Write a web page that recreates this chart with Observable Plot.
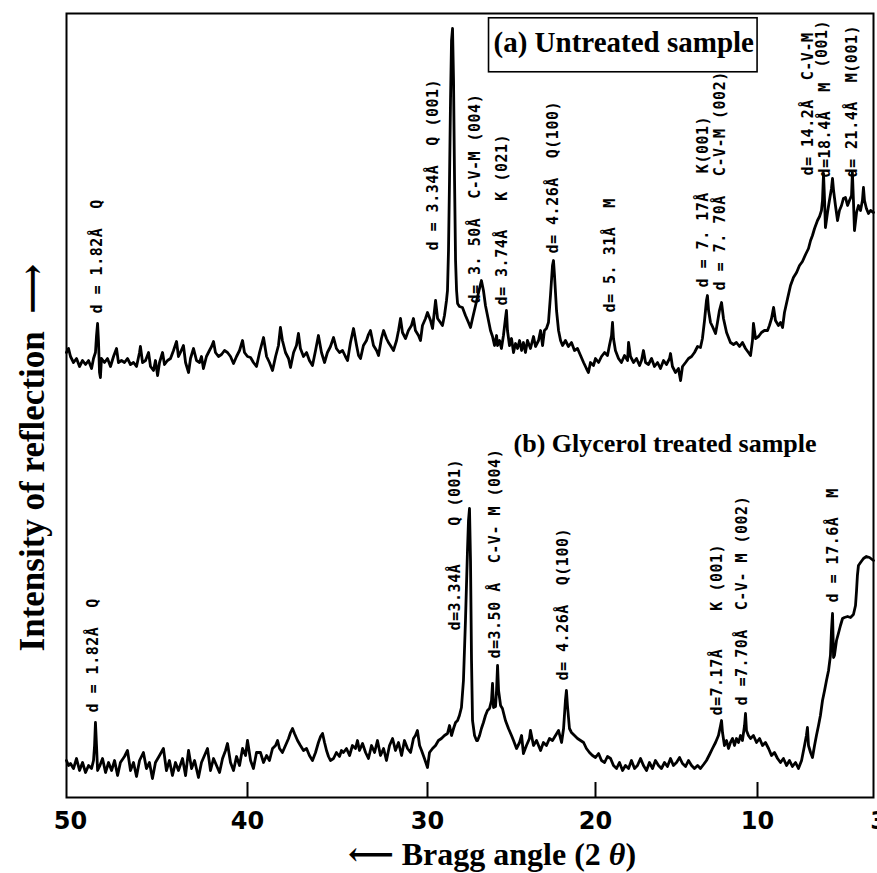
<!DOCTYPE html>
<html><head><meta charset="utf-8">
<script src="https://cdn.jsdelivr.net/npm/d3@7"></script>
<script src="https://cdn.jsdelivr.net/npm/@observablehq/plot@0.6"></script>
<style>
body{margin:0;background:#fff}
#chart svg{display:block}
.pk text{white-space:pre;letter-spacing:0.5px}
</style></head><body><div id="chart"></div>
<script>
// Bragg angle 2θ (deg) and relative intensity (arbitrary units)
const traceA = [
[50.23,445],[50.11,449],[50.00,441],[49.83,435],[49.66,439],[49.49,431],[49.32,437],[49.15,433],[48.98,437],[48.81,429],
[48.70,439],[48.59,445],[48.53,462],[48.47,474],[48.42,457],[48.36,425],[48.31,420],[48.25,439],[48.08,435],[47.91,439],
[47.74,431],[47.57,441],[47.40,449],[47.29,435],[47.12,437],[46.95,435],[46.78,439],[46.61,433],[46.44,435],[46.27,431],
[46.10,445],[46.05,451],[45.93,435],[45.76,437],[45.59,445],[45.48,431],[45.31,427],[45.20,437],[45.08,422],[44.97,435],
[44.80,445],[44.69,433],[44.52,437],[44.35,439],[44.18,447],[44.01,456],[43.90,441],[43.79,445],[43.62,452],[43.50,435],
[43.33,425],[43.22,439],[43.05,449],[42.88,437],[42.71,435],[42.60,441],[42.49,429],[42.32,441],[42.15,447],[42.03,451],
[41.92,456],[41.81,445],[41.64,441],[41.47,443],[41.30,447],[41.13,445],[40.96,441],[40.79,434],[40.62,441],[40.45,447],
[40.28,457],[40.17,445],[40.00,441],
[39.83,440],[39.67,435],[39.50,431],[39.33,445],[39.11,460],[38.94,441],[38.78,435],[38.61,427],[38.44,441],[38.28,452],
[38.17,470],[38.06,457],[37.89,445],[37.72,439],[37.61,430],[37.44,445],[37.28,452],[37.17,464],[37.06,449],[36.89,441],
[36.72,445],[36.56,437],[36.39,432],[36.22,447],[36.06,462],[35.89,445],[35.72,435],[35.56,445],[35.39,451],[35.22,460],
[35.06,449],[34.89,445],[34.72,447],[34.56,441],[34.44,437],[34.28,455],[34.11,469],[33.94,452],[33.83,442],[33.72,439],
[33.56,452],[33.39,457],[33.28,463],[33.17,467],[33.00,452],[32.83,447],[32.72,442],[32.56,459],[32.44,467],[32.28,459],
[32.17,455],[32.06,452],[31.89,447],[31.72,457],[31.61,467],[31.50,479],[31.39,465],[31.22,459],[31.06,467],[30.89,472],
[30.78,479],[30.67,467],[30.50,462],[30.39,457],[30.28,472],[30.11,479],[30.00,485],
[29.82,477],[29.70,469],[29.52,497],[29.40,479],[29.23,475],[29.11,472],[28.99,482],[28.87,497],[28.81,507],[28.75,547],
[28.69,617],[28.63,697],[28.57,757],[28.51,769],[28.45,717],[28.39,617],[28.33,537],[28.27,507],[28.21,494],[28.10,491],
[27.92,490],[27.74,482],[27.56,475],[27.44,470],[27.32,479],[27.14,492],[26.96,505],[26.79,517],[26.67,507],[26.55,492],
[26.43,482],[26.25,467],[26.13,461],[26.01,452],[25.89,462],[25.83,452],[25.71,457],[25.60,449],[25.48,462],[25.36,479],
[25.30,487],[25.24,467],[25.12,452],[25.00,459],[24.88,445],[24.76,454],[24.64,449],[24.52,457],[24.40,447],[24.29,455],
[24.17,445],[24.05,457],[23.87,449],[23.69,461],[23.57,451],[23.39,457],[23.27,467],[23.15,452],[23.04,467],[22.92,469],
[22.80,475],[22.68,502],[22.56,532],[22.50,537],[22.44,522],[22.32,487],[22.20,467],[22.08,457],[21.96,452],[21.79,457],
[21.61,451],[21.43,455],[21.25,447],[21.07,449],[20.89,442],[20.71,435],[20.54,429],[20.42,425],[20.30,435],[20.12,432],
[20.00,439],
[19.81,435],[19.63,441],[19.44,445],[19.26,442],[19.14,452],[19.01,462],[18.95,475],[18.89,459],[18.77,447],[18.58,439],
[18.40,435],[18.21,442],[18.02,437],[17.96,455],[17.84,441],[17.65,435],[17.47,439],[17.28,432],[17.16,437],[17.04,447],
[16.91,435],[16.73,433],[16.54,439],[16.36,431],[16.17,435],[15.99,429],[15.80,437],[15.62,433],[15.43,439],[15.37,444],
[15.25,431],[15.06,425],[14.88,429],[14.75,417],[14.63,431],[14.44,435],[14.26,439],[14.07,441],[13.89,445],[13.70,451],
[13.52,450],[13.40,459],[13.27,477],[13.15,497],[13.09,502],[13.02,487],[12.90,475],[12.78,471],[12.59,464],[12.47,475],
[12.35,487],[12.22,495],[12.10,479],[11.91,465],[11.67,455],[11.48,453],[11.30,455],[11.11,451],[10.93,455],[10.74,449],
[10.56,445],[10.43,442],[10.31,457],[10.25,474],[10.12,459],
[9.94,461],[9.77,465],[9.60,467],[9.42,467],[9.31,472],[9.19,479],[9.07,490],[8.96,477],[8.79,472],[8.67,475],
[8.55,470],[8.44,485],[8.26,499],[8.09,512],[7.92,520],[7.74,525],[7.57,532],[7.40,536],[7.22,543],[7.05,549],
[6.93,557],[6.82,562],[6.70,569],[6.53,577],[6.41,581],[6.30,587],[6.24,597],[6.18,624],[6.12,597],[6.07,570],
[5.95,585],[5.84,597],[5.72,609],[5.66,619],[5.60,607],[5.49,592],[5.37,577],[5.26,587],[5.14,592],[5.03,599],
[4.91,600],[4.79,592],[4.68,597],[4.56,602],[4.51,625],[4.45,597],[4.39,567],[4.27,585],[4.16,592],[4.04,587],
[3.93,597],[3.87,610],[3.81,597],[3.70,589],[3.58,584],[3.46,587],[3.29,585]
];

const traceB = [
[50.23,37],[50.11,32],[50.00,34],[49.83,29],[49.66,39],[49.49,27],[49.32,35],[49.15,25],[48.98,32],[48.81,29],
[48.70,37],[48.64,52],[48.59,75],[48.53,52],[48.47,27],[48.36,31],[48.19,39],[48.02,25],[47.85,35],[47.68,27],
[47.51,37],[47.34,22],[47.18,35],[46.95,41],[46.78,47],[46.61,27],[46.44,35],[46.27,21],[46.10,37],[45.88,45],
[45.71,29],[45.54,35],[45.37,19],[45.20,35],[44.97,42],[44.75,49],[44.58,27],[44.41,37],[44.24,22],[44.07,35],
[43.90,27],[43.67,39],[43.50,22],[43.33,47],[43.16,29],[42.99,37],[42.77,20],[42.60,35],[42.43,42],[42.26,49],
[42.09,27],[41.92,39],[41.75,32],[41.58,25],[41.41,39],[41.24,47],[41.13,54],[40.96,35],[40.79,27],[40.62,41],
[40.45,32],[40.28,49],[40.11,42],[40.00,57],
[39.83,37],[39.67,29],[39.50,45],[39.28,45],[39.11,35],[38.94,42],[38.78,37],[38.61,49],[38.44,52],[38.33,57],
[38.22,49],[38.06,45],[37.89,52],[37.72,59],[37.61,65],[37.50,69],[37.39,64],[37.22,57],[37.06,52],[36.89,47],
[36.72,49],[36.56,42],[36.39,37],[36.22,45],[36.06,55],[35.94,61],[35.83,64],[35.72,55],[35.61,47],[35.50,41],
[35.39,37],[35.22,39],[35.06,45],[34.89,41],[34.78,47],[34.67,45],[34.50,49],[34.33,42],[34.17,52],[34.00,49],
[33.89,57],[33.78,47],[33.61,54],[33.44,45],[33.28,39],[33.11,52],[32.94,45],[32.78,57],[32.61,42],[32.44,49],
[32.28,37],[32.11,52],[31.94,59],[31.78,47],[31.61,55],[31.44,42],[31.28,57],[31.11,49],[30.94,45],[30.78,59],
[30.67,62],[30.56,67],[30.44,52],[30.33,47],[30.17,39],[30.00,30],
[29.88,45],[29.70,49],[29.52,52],[29.35,57],[29.17,59],[28.99,62],[28.81,64],[28.69,72],[28.57,62],[28.45,69],
[28.33,75],[28.21,77],[28.10,82],[27.98,90],[27.86,117],[27.74,177],[27.62,247],[27.56,277],[27.50,289],[27.44,237],
[27.38,137],[27.32,77],[27.20,62],[27.08,57],[27.02,57],[26.90,62],[26.79,69],[26.67,75],[26.55,82],[26.43,87],
[26.31,89],[26.19,97],[26.13,114],[26.07,90],[25.95,91],[25.89,107],[25.83,132],[25.77,107],[25.65,92],[25.54,89],
[25.36,77],[25.18,69],[25.00,62],[24.88,57],[24.70,49],[24.52,55],[24.40,62],[24.29,44],[24.11,52],[23.93,59],
[23.87,67],[23.69,52],[23.51,57],[23.39,52],[23.27,47],[23.10,55],[22.92,52],[22.74,59],[22.56,57],[22.38,62],
[22.20,67],[22.02,55],[21.90,69],[21.79,97],[21.73,107],[21.67,92],[21.55,69],[21.43,65],[21.25,62],[21.07,59],
[20.89,57],[20.71,55],[20.54,49],[20.36,45],[20.18,42],[20.00,40],
[19.81,44],[19.63,37],[19.44,35],[19.26,41],[19.07,39],[18.89,32],[18.70,29],[18.52,35],[18.33,27],[18.15,32],
[17.96,29],[17.78,37],[17.59,29],[17.41,32],[17.22,39],[17.04,32],[16.85,27],[16.67,35],[16.48,29],[16.30,37],
[16.11,32],[15.93,29],[15.74,35],[15.56,31],[15.37,39],[15.19,32],[15.00,35],[14.81,40],[14.63,34],[14.44,31],
[14.26,37],[14.07,32],[13.89,29],[13.70,32],[13.52,29],[13.33,33],[13.15,37],[12.96,43],[12.78,49],[12.59,55],
[12.41,62],[12.28,72],[12.22,77],[12.16,65],[12.04,52],[11.91,57],[11.79,49],[11.67,55],[11.54,59],[11.42,52],
[11.30,59],[11.17,55],[11.05,62],[10.93,57],[10.80,72],[10.74,84],[10.68,67],[10.56,62],[10.43,59],[10.25,62],
[10.06,55],
[9.88,59],[9.71,52],[9.54,55],[9.36,49],[9.19,42],[9.02,45],[8.84,39],[8.67,35],[8.50,39],[8.32,32],
[8.15,37],[7.98,31],[7.80,35],[7.63,29],[7.45,37],[7.28,52],[7.17,62],[7.11,70],[7.05,52],[6.93,45],
[6.82,40],[6.70,52],[6.59,62],[6.47,72],[6.36,82],[6.24,97],[6.12,107],[6.01,117],[5.89,127],[5.78,142],
[5.72,167],[5.66,184],[5.60,140],[5.55,142],[5.43,157],[5.32,164],[5.20,172],[5.08,179],[4.97,180],[4.79,181],
[4.62,180],[4.45,183],[4.33,192],[4.27,207],[4.22,222],[4.16,232],[4.04,235],[3.87,239],[3.70,241],[3.52,240],
[3.29,237]
];

// peak annotations: [2θ, intensity where the label starts, text]
const peakLabelsA = [
[48.47,484,"d = 1.82Å  Q"],
[29.64,547,"d = 3.34Å  Q (001)"],
[27.14,494,"d= 3. 50Å  C-V-M (004)"],
[25.54,492,"d= 3.74Å   K (021)"],
[22.50,544,"d= 4.26Å  Q(100)"],
[19.07,485,"d= 5. 31Å  M"],
[13.33,510,"d = 7. 17Å  K(001)"],
[12.28,507,"d = 7. 70Å  C-V-M (002)"],
[7.05,622,"d= 14.2Å  C-V-M"],
[6.24,730,"(001)"],
[6.07,620,"d=18.4Å  M"],
[4.51,620,"d= 21.4Å  M(001)"]
];
const peakLabelsB = [
[48.70,85,"d = 1.82Å  Q"],
[28.33,167,"d=3.34Å    Q (001)"],
[25.95,139,"d=3.50 Å  C-V- M (004)"],
[21.90,117,"d= 4.26Å  Q(100)"],
[12.47,82,"d=7.17Å    K (001)"],
[10.93,92,"d =7.70Å  C-V- M (002)"],
[5.60,195,"d = 17.6Å  M"]
];

const sampleTitles = [
[26.07,755,"(a) Untreated sample"],
[24.88,354,"(b) Glycerol treated sample"]
];
const xTickLabels = [50,40,30,20,10,3];
const xTickMarks = [40,30,20,10];
// strip-chart calibration: 2θ graduations vs. distance along the chart paper (the recorder's angle scale is slightly uneven)
const chartTheta = [50,40,30,20,10,3];
const chartDist  = [0,177,357,525,687,808];
const yTitle = "Intensity of reflection  \u27F6";
const xTitle = "\u27F5 Bragg angle (2 \u03B8)";

const warp = d3.scaleLinear().domain(chartTheta).range(chartDist);

const serif = "'Liberation Serif', 'Times New Roman', 'DejaVu Serif', serif";
const mono = "'DejaVu Sans Mono', monospace";

const chart = Plot.plot({
  width: 877, height: 873,
  marginLeft: 66, marginRight: 4, marginTop: 13, marginBottom: 76,
  x: {domain: [-4, 803], label: null},
  y: {domain: [0,784], axis: null},
  style: {background: "white", color: "black"},
  marks: [
    Plot.frame({stroke: "black", strokeWidth: 2}),
    Plot.tickX(xTickMarks, {x: d => warp(d), insetTop: 769, strokeWidth: 2}),
    Plot.axisX({ticks: xTickLabels.map(d => warp(d)), tickSize: 0, tickPadding: 14, fontSize: 24, fontWeight: "bold",
      fontFamily: "'DejaVu Sans', sans-serif", label: null,
      tickFormat: d => String(Math.round(warp.invert(d)))}),
    Plot.line(traceA, {x: d => warp(d[0]), y: d => d[1], stroke: "black", strokeWidth: 2.8, strokeLinejoin: "round"}),
    Plot.line(traceB, {x: d => warp(d[0]), y: d => d[1], stroke: "black", strokeWidth: 2.8, strokeLinejoin: "round"}),
    Plot.text(peakLabelsA, {x: d => warp(d[0]), y: d => d[1], text: d => d[2], rotate: -90, textAnchor: "start",
      fontFamily: mono, fontWeight: "bold", fontSize: 15, fill: "black", className: "pk"}),
    Plot.text(peakLabelsB, {x: d => warp(d[0]), y: d => d[1], text: d => d[2], rotate: -90, textAnchor: "start",
      fontFamily: mono, fontWeight: "bold", fontSize: 15, fill: "black", className: "pk"}),
    Plot.text(sampleTitles.slice(0,1), {x: d => warp(d[0]), y: d => d[1], text: d => d[2], textAnchor: "start",
      fontFamily: serif, fontWeight: "bold", fontSize: 29, fill: "black", className: "boxed"}),
    Plot.text(sampleTitles.slice(1), {x: d => warp(d[0]), y: d => d[1], text: d => d[2], textAnchor: "start",
      fontFamily: serif, fontWeight: "bold", fontSize: 26, fill: "black"}),
    Plot.text([yTitle], {text: d => d, frameAnchor: "left", textAnchor: "middle", dx: -34, dy: 52, rotate: -90,
      fontFamily: serif, fontWeight: "bold", fontSize: 35, fill: "black"}),
    Plot.text([xTitle], {text: d => d, frameAnchor: "bottom", textAnchor: "middle", dx: 22, dy: 67,
      fontFamily: serif, fontWeight: "bold", fontSize: 32, fill: "black", className: "xlabel"})
  ]
});
document.getElementById("chart").append(chart);

// box around the (a) title
const NS = "http://www.w3.org/2000/svg";
const bt = chart.querySelector("g.boxed text");
if (bt) {
  const bb = bt.getBBox();
  const r = document.createElementNS(NS, "rect");
  r.setAttribute("x", bb.x - 5); r.setAttribute("y", bb.y - 8);
  r.setAttribute("width", bb.width + 8); r.setAttribute("height", bb.height + 21);
  r.setAttribute("fill", "none"); r.setAttribute("stroke", "black"); r.setAttribute("stroke-width", 1.6);
  const tr = bt.getAttribute("transform"); if (tr) r.setAttribute("transform", tr);
  bt.parentNode.insertBefore(r, bt);
}
// italic theta in x title
const xl = chart.querySelector("g.xlabel text");
if (xl) {
  const full = xl.textContent;
  const i = full.indexOf("\u03B8");
  xl.textContent = "";
  const a = document.createElementNS(NS, "tspan"); a.textContent = full.slice(0, i);
  const b = document.createElementNS(NS, "tspan"); b.textContent = full.slice(i, i+1); b.setAttribute("font-style", "italic");
  const c = document.createElementNS(NS, "tspan"); c.textContent = full.slice(i+1);
  xl.append(a, b, c);
}
</script></body></html>
